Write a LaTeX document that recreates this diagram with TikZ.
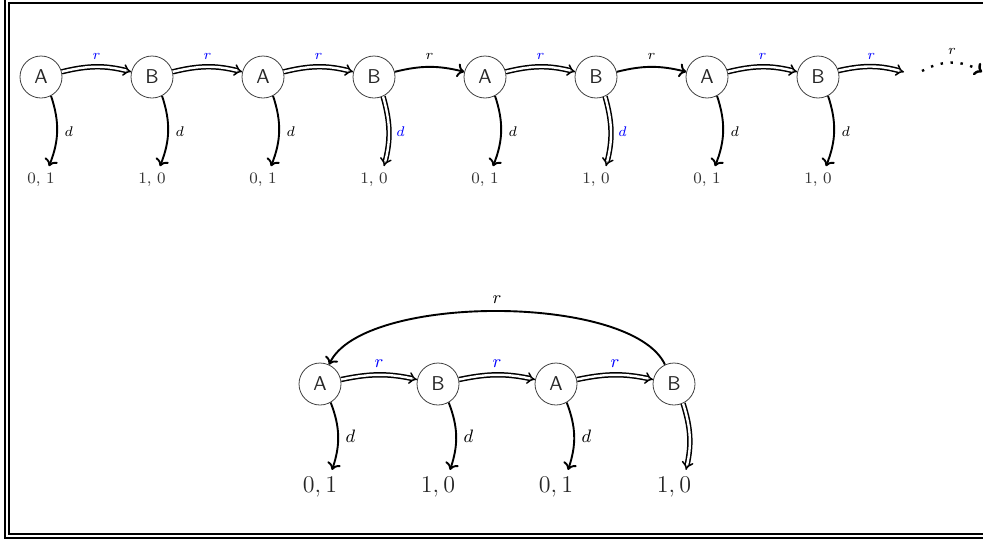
\documentclass[tikz,border=0pt]{standalone}
\usepackage{amsmath}
\usepackage{amssymb}
\usepackage{tikz}
\usetikzlibrary{arrows.meta}

\tikzset{
  st/.style={circle, draw=black!75, line width=0.4pt, minimum size=21pt, inner sep=0pt, font=\sffamily, text=black!85},
  sgl/.style={line width=0.95pt, -{To[length=3.5pt,width=7pt]}},
  dbl/.style={double, line width=0.75pt, double distance=1.2pt, -{Implies}},
  pay/.style={font=\footnotesize, text=black!80},
  bigpay/.style={font=\large, text=black!85},
  tlab/.style={font=\scriptsize},
  blab/.style={font=\small},
}

\begin{document}
\begin{tikzpicture}[x=0.5pt, y=0.5pt]
    \useasboundingbox (0,0) rectangle (983,543);
    % Frame
    \draw[line width=1.1pt] (5,543) -- (5,5) -- (983,5);
    \draw[line width=0.9pt] (983,540) -- (9,540) -- (9,9) -- (983,9);

    % Unrolled game
    \node[st] (a1) at (41,466) {A};
    \node[st] (b1) at (152,466) {B};
    \node[st] (a2) at (263,466) {A};
    \node[st] (b2) at (374,466) {B};
    \node[st] (a3) at (485,466) {A};
    \node[st] (b3) at (596,466) {B};
    \node[st] (a4) at (707,466) {A};
    \node[st] (b4) at (818,466) {B};
    \coordinate (c1) at (904,471);
    \coordinate (c2) at (922,472);
    \coordinate (c3) at (982,471);

    \node[pay] (pa1) at (41,363) {$0,\,1$};
    \node[pay] (pb1) at (152,363) {$1,\,0$};
    \node[pay] (pa2) at (263,363) {$0,\,1$};
    \node[pay] (pb2) at (374,363) {$1,\,0$};
    \node[pay] (pa3) at (485,363) {$0,\,1$};
    \node[pay] (pb3) at (596,363) {$1,\,0$};
    \node[pay] (pa4) at (707,363) {$0,\,1$};
    \node[pay] (pb4) at (818,363) {$1,\,0$};

    \draw[dbl] (a1) to[bend left=14] node[above, tlab, blue] {$r$} (b1);
    \draw[dbl] (b1) to[bend left=14] node[above, tlab, blue] {$r$} (a2);
    \draw[dbl] (a2) to[bend left=14] node[above, tlab, blue] {$r$} (b2);
    \draw[sgl] (b2) to[bend left=14] node[above, tlab] {$r$} (a3);
    \draw[dbl] (a3) to[bend left=14] node[above, tlab, blue] {$r$} (b3);
    \draw[sgl] (b3) to[bend left=14] node[above, tlab] {$r$} (a4);
    \draw[dbl] (a4) to[bend left=14] node[above, tlab, blue] {$r$} (b4);
    \draw[dbl] (b4) to[bend left=14] node[above, tlab, blue] {$r$} (c1);
    \draw[sgl, line width=1.2pt, dash pattern=on 1.2pt off 3.8pt] (c2) to[bend left=30] node[above, tlab] {$r$} (c3);

    \draw[sgl] (a1.-62) to[bend left=20] node[right, tlab] {$d$} ([xshift=4pt]pa1.north);
    \draw[sgl] (b1.-62) to[bend left=20] node[right, tlab] {$d$} ([xshift=4pt]pb1.north);
    \draw[sgl] (a2.-62) to[bend left=20] node[right, tlab] {$d$} ([xshift=4pt]pa2.north);
    \draw[dbl] (b2.-65) to[bend left=15] node[right, tlab, blue] {$d$} ([xshift=5pt]pb2.north);
    \draw[sgl] (a3.-62) to[bend left=20] node[right, tlab] {$d$} ([xshift=4pt]pa3.north);
    \draw[dbl] (b3.-65) to[bend left=15] node[right, tlab, blue] {$d$} ([xshift=5pt]pb3.north);
    \draw[sgl] (a4.-62) to[bend left=20] node[right, tlab] {$d$} ([xshift=4pt]pa4.north);
    \draw[sgl] (b4.-62) to[bend left=20] node[right, tlab] {$d$} ([xshift=4pt]pb4.north);

    % Folded game
    \node[st] (ga1) at (320,159) {A};
    \node[st] (gb1) at (438,159) {B};
    \node[st] (ga2) at (556,159) {A};
    \node[st] (gb2) at (674,159) {B};

    \node[bigpay] (qa1) at (320,56) {$0,1$};
    \node[bigpay] (qb1) at (438,56) {$1,0$};
    \node[bigpay] (qa2) at (556,56) {$0,1$};
    \node[bigpay] (qb2) at (674,56) {$1,0$};

    \draw[dbl] (ga1) to[bend left=12] node[above, blab, blue] {$r$} (gb1);
    \draw[dbl] (gb1) to[bend left=12] node[above, blab, blue] {$r$} (ga2);
    \draw[dbl] (ga2) to[bend left=12] node[above, blab, blue] {$r$} (gb2);
    \draw[sgl] (gb2) to[out=115, in=65, looseness=0.6] node[above, blab] {$r$} (ga1);

    \draw[sgl] (ga1.-60) to[bend left=20] node[right, blab] {$d$} ([xshift=6pt]qa1.north);
    \draw[sgl] (gb1.-60) to[bend left=20] node[right, blab] {$d$} ([xshift=6pt]qb1.north);
    \draw[sgl] (ga2.-60) to[bend left=20] node[right, blab] {$d$} ([xshift=6pt]qa2.north);
    \draw[dbl] (gb2.-65) to[bend left=15] ([xshift=6pt]qb2.north);
\end{tikzpicture}
\end{document}
